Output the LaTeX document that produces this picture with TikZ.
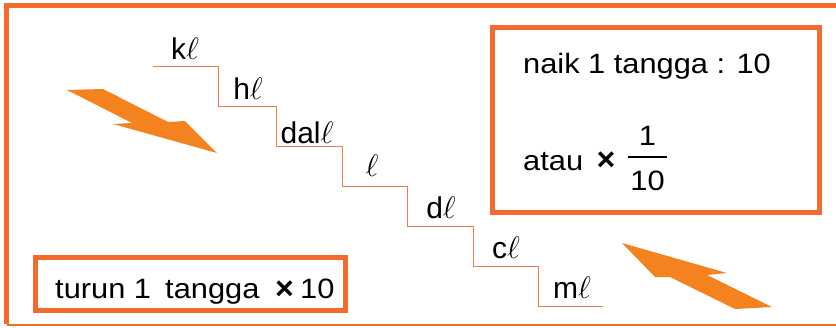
\documentclass[tikz,border=0pt]{standalone}
\usepackage{fontspec}
\setmainfont{Liberation Sans}
\usepackage{graphicx}
\definecolor{framec}{HTML}{F26A2C}
\definecolor{arrowc}{HTML}{F4831F}
\definecolor{stepc}{HTML}{F47C4C}
\newcommand\boxfont{\fontsize{28}{32}\selectfont}
\newcommand\lblfont{\fontsize{30}{34}\selectfont}
\newcommand\sx[1]{\scalebox{1.1}[1]{#1}}
\newcommand\myell{\scalebox{1.25}{\fontsize{24}{28}\selectfont$\ell$}}
\newcommand\mytimes{\scalebox{1.15}{\textbf{×}}}
\begin{document}
\begin{tikzpicture}[x=1pt,y=-1pt,
  obox/.style={draw=framec, line width=5pt, inner sep=0pt, fill=white},
  txt/.style={inner sep=0pt, font=\boxfont},
  lbl/.style={inner sep=0pt, anchor=base, font=\lblfont},
  stair/.style={draw=stepc, line width=0.9pt},
  bolt/.style={fill=arrowc}]
\useasboundingbox (0,0) rectangle (836,327);
% outer frame
\draw[framec, line width=5pt, line join=miter] (836,5.5) -- (6.5,5.5) -- (6.5,324);
\draw[framec, line width=2pt] (6.5,325) -- (836,325);
% boxes
\node[obox, minimum width=327pt, minimum height=185pt] (rbox) at (656,120) {};
\node[obox, minimum width=310pt, minimum height=53pt] (lbox) at (190.5,284) {};
% staircase
\coordinate (p0) at (153,66);
\coordinate (p1) at (218,66);
\coordinate (p2) at (218,106);
\coordinate (p3) at (276,106);
\coordinate (p4) at (276,146);
\coordinate (p5) at (342,146);
\coordinate (p6) at (342,186);
\coordinate (p7) at (407,186);
\coordinate (p8) at (407,226);
\coordinate (p9) at (473,226);
\coordinate (p10) at (473,266);
\coordinate (p11) at (538,266);
\coordinate (p12) at (538,306);
\coordinate (p13) at (603,306);
\draw[stair] (p0) -- (p1) -- (p2) -- (p3) -- (p4) -- (p5) -- (p6) -- (p7)
  -- (p8) -- (p9) -- (p10) -- (p11) -- (p12) -- (p13);
% step labels
\node[lbl] (kl) at (185,59) {k\myell};
\node[lbl] (hl) at (248,99) {h\myell};
\node[lbl] (dal) at (307,143) {dal\myell};
\node[lbl] (l) at (372,176) {\myell};
\node[lbl] (dl) at (441,218) {d\myell};
\node[lbl] (cl) at (506,258) {c\myell};
\node[lbl] (ml) at (572,298) {m\myell};
% bolts
\fill[bolt] (67,90) -- (103,89) -- (168,122) -- (185,121) -- (217,153)
  -- (113,124) -- (132,123) -- cycle;
\fill[bolt] (622,243) -- (727,273) -- (707,275) -- (772,307) -- (735,309)
  -- (670,277) -- (655,277) -- cycle;
% right box text
\node[txt, anchor=base west] (naik) at (523,73) {\sx{naik 1 tangga : 10}};
\node[txt, anchor=base west] (atau) at (523,170) {\sx{atau}};
\node[txt] (times1) at (606,161.5) {\mytimes};
\node[txt, anchor=base] (num) at (647.5,145) {\sx{1}};
\node[txt, anchor=base] (den) at (647.5,190) {\sx{10}};
\draw[line width=1.3pt] (628,157) -- (667,157);
% left box text
\node[txt, anchor=base west] (turun) at (55,298) {\sx{turun 1}};
\node[txt, anchor=base west] (tangga) at (165,298) {\sx{tangga}};
\node[txt] (times2) at (284.5,290) {\mytimes};
\node[txt, anchor=base west] (ten) at (300,298) {\sx{10}};
\end{tikzpicture}
\end{document}
